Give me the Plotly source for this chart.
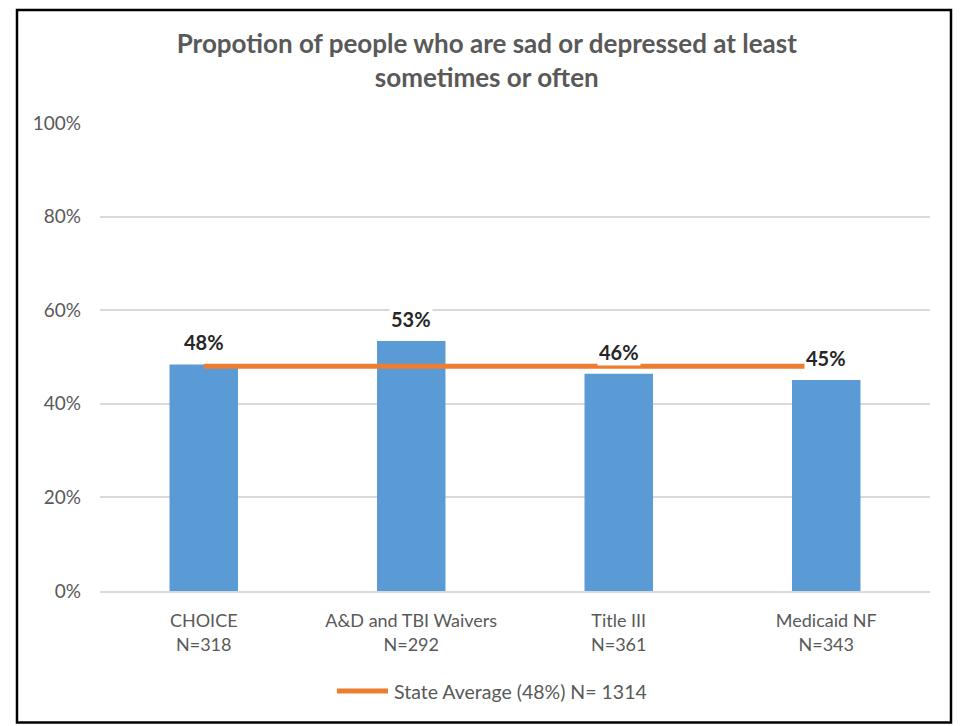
import plotly.graph_objects as go

categories = ["CHOICE<br>N=318", "A&D and TBI Waivers<br>N=292", "Title III<br>N=361", "Medicaid NF<br>N=343"]
values = [48.4, 53.4, 46.4, 45.1]
value_labels = ["48%", "53%", "46%", "45%"]
state_avg = [48, 48, 48, 48]
legend_name = "State Average (48%) N= 1314"
title_text = "Propotion of people who are sad or depressed at least<br>sometimes or often"
y_ticks = [0, 20, 40, 60, 80, 100]
y_tick_text = ["0%", "20%", "40%", "60%", "80%", "100%"]

FONT = "Lato, 'Open Sans', sans-serif"
GRAY = "#595959"
ORANGE = "#ED7D31"

fig = go.Figure()
fig.add_trace(go.Bar(
    x=categories, y=values, width=0.33,
    marker=dict(color="#5B9BD5", line=dict(width=0)),
    showlegend=False, hoverinfo="skip",
))
fig.add_trace(go.Scatter(
    x=categories, y=state_avg, mode="lines",
    line=dict(color=ORANGE, width=5),
    name=legend_name, showlegend=False,
))

for c, v, t in zip(categories, values, value_labels):
    fig.add_annotation(
        x=c, y=v, xref="x", yref="y", text="<b>%s</b>" % t,
        showarrow=False, yanchor="bottom", yshift=8,
        font=dict(family=FONT, size=20, color="#262626"),
        bgcolor="white", borderpad=1,
    )

# legend (drawn manually to match the long line swatch)
fig.add_shape(
    type="line", xref="paper", yref="paper",
    x0=0.2855, x1=0.347, y0=-0.2137, y1=-0.2137,
    line=dict(color=ORANGE, width=5),
)
fig.add_annotation(
    x=0.3518, y=-0.2137, xref="paper", yref="paper",
    text=legend_name, showarrow=False, xanchor="left", yanchor="middle",
    font=dict(family=FONT, size=19.5, color=GRAY),
)

# outer frame
fig.add_shape(
    type="rect", xref="paper", yref="paper",
    x0=-0.1, x1=1.0253, y0=-0.281, y1=1.2415,
    line=dict(color="black", width=2.5), fillcolor="rgba(0,0,0,0)",
    layer="below",
)

fig.update_layout(
    width=962, height=726,
    margin=dict(l=100, r=32, t=123, b=135),
    paper_bgcolor="white", plot_bgcolor="white",
    title=dict(
        text="<b>%s</b>" % title_text,
        x=0.506, xanchor="center", y=0.927, yanchor="middle",
        font=dict(family=FONT, size=26, color=GRAY),
    ),
    font=dict(family=FONT, color=GRAY),
    showlegend=False,
    xaxis=dict(
        showgrid=False, showline=True, linecolor="#d9d9d9", linewidth=1.5,
        ticks="", tickfont=dict(family=FONT, size=18, color=GRAY),
        range=[-0.5, 3.5], ticklabelstandoff=13,
    ),
    yaxis=dict(
        range=[0, 100], tickvals=y_ticks, ticktext=y_tick_text,
        showgrid=True, gridcolor="#d9d9d9", gridwidth=1.5,
        zeroline=False, showline=False, ticks="",
        tickfont=dict(family=FONT, size=19, color=GRAY),
        ticklabelstandoff=18,
    ),
    bargap=0.67,
)

fig.write_html(
    "out.html",
    config={"displayModeBar": False},
    post_script="document.body.style.margin='0';document.body.style.overflow='hidden';",
)
